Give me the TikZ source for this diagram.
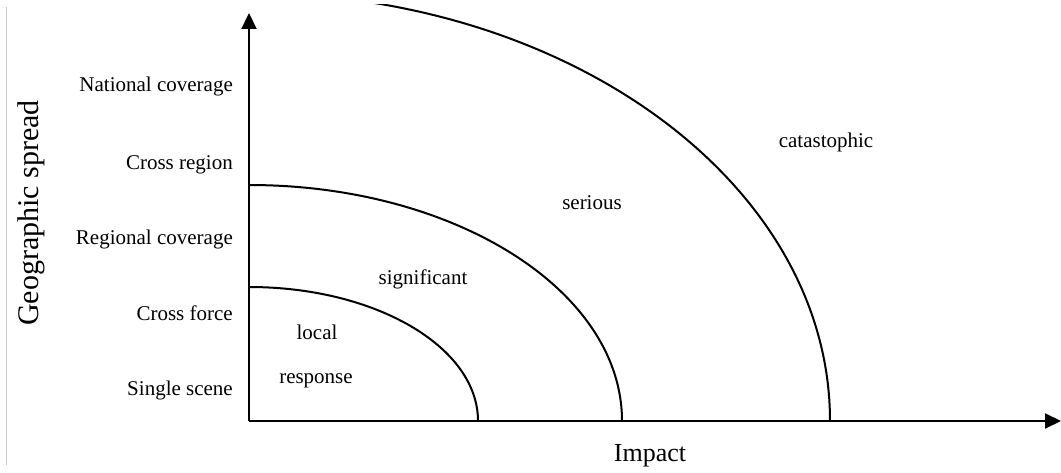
\documentclass[tikz,border=0pt]{standalone}
\usepackage{fontspec}
\setmainfont{Liberation Serif}
\usetikzlibrary{arrows.meta}
\begin{document}
\begin{tikzpicture}[x=1pt,y=1pt,
  axis/.style={line width=2pt,-{Triangle[length=16pt,width=15pt]}},
  zone/.style={line width=2pt},
  ticklabel/.style={anchor=base east,font=\fontsize{21}{25}\selectfont,inner sep=0pt},
  zonelabel/.style={anchor=base,font=\fontsize{21}{25}\selectfont,inner sep=0pt},
  axislabel/.style={inner sep=0pt}]
\useasboundingbox (0,0) rectangle (1061,472);
\clip (0,0) rectangle (1061,472);
% faint left border
\draw[line width=1pt,color={rgb,255:red,200;green,204;blue,208}] (6,7) -- (6,465);
% axes
\coordinate (O) at (249,51);
\coordinate (ytip) at (249,459);
\coordinate (xtip) at (1061,51);
\draw[axis] (O) -- (ytip);
\draw[axis] (O) -- (xtip);
% zones
\coordinate (a1) at (478,51);
\coordinate (a2) at (622,51);
\coordinate (a3) at (830,51);
\draw[zone] (a1) arc[start angle=0,end angle=90,x radius=229,y radius=134];
\draw[zone] (a2) arc[start angle=0,end angle=90,x radius=373,y radius=236];
\begin{scope}
\clip (0,0) rectangle (1061,467);
\draw[zone] (a3) arc[start angle=0,end angle=90,x radius=581,y radius=428];
\end{scope}
% y labels
\node[ticklabel] (national) at (233,380) {National coverage};
\node[ticklabel] (crossregion) at (233,302) {Cross region};
\node[ticklabel] (regional) at (233,227) {Regional coverage};
\node[ticklabel] (crossforce) at (233,152) {Cross force};
\node[ticklabel] (single) at (233,77) {Single scene};
% zone labels
\node[zonelabel] (local) at (317,132) {local};
\node[zonelabel] (response) at (316,89) {response};
\node[zonelabel] (significant) at (423,187) {significant};
\node[zonelabel] (serious) at (592,262) {serious};
\node[zonelabel] (catastophic) at (826,324) {catastophic};
% axis titles
\node[axislabel,anchor=base,font=\fontsize{26}{30}\selectfont] (impact) at (650,11) {Impact};
\node[axislabel,rotate=90,font=\fontsize{30}{34}\selectfont] (geo) at (31,259) {Geographic spread};
\end{tikzpicture}
\end{document}
